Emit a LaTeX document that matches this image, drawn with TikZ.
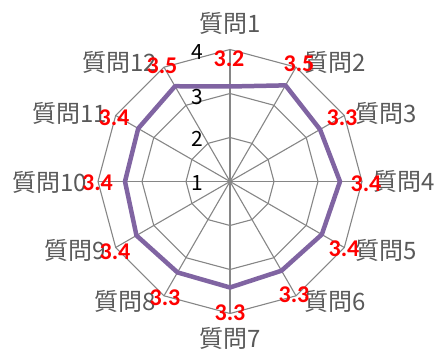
\documentclass[tikz,border=0pt]{standalone}
\usepackage{fontspec}
\newfontfamily\jpfont{Noto Sans CJK JP}
\newfontfamily\numfont{Carlito}
\definecolor{gridgray}{RGB}{134,134,134}
\definecolor{labgray}{RGB}{89,89,89}
\definecolor{serpurple}{RGB}{128,100,162}
\begin{document}
\begin{tikzpicture}[x=1pt,y=1pt,
 gridline/.style={draw=gridgray,line width=1.1pt},
 qlab/.style={inner sep=0,text=labgray,font=\jpfont\fontsize{24}{24}\selectfont},
 vlab/.style={inner sep=0,text=red,font=\numfont\bfseries\fontsize{24}{24}\selectfont},
 tlab/.style={inner sep=0,text=black,font=\jpfont\fontsize{21}{21}\selectfont},
 series/.style={draw=serpurple,line width=4.5pt,line join=round}]
\useasboundingbox (0,0) rectangle (445,352);
\coordinate (c) at (230,170.5);
% spokes
\foreach \k in {0,...,11} {\draw[gridline] (c) -- ++({90-30*\k}:132);}
% rings
\foreach \r in {44,88,132} {
  \draw[gridline,shift={(c)}] (90:\r) \foreach \k in {1,...,11} { -- ({90-30*\k}:\r)} -- cycle;
}
% series
\draw[series,shift={(c)}] (90:95) -- (60:111) -- (30:104) -- (0:110) -- (-30:106) -- (-60:103)
  -- (-90:106) -- (-120:105) -- (-150:108) -- (180:105) -- (150:106) -- (120:110) -- cycle;
% tick labels
\node[tlab] (t4) at (197,300) {4};
\node[tlab] (t3) at (197,255) {3};
\node[tlab] (t2) at (197,213) {2};
\node[tlab] (t1) at (197,169) {1};
% category labels
\node[qlab] (q1) at (230,329) {質問1};
\node[qlab] (q2) at (335,290) {質問2};
\node[qlab] (q3) at (386,239) {質問3};
\node[qlab] (q4) at (404,171) {質問4};
\node[qlab] (q5) at (386,102) {質問5};
\node[qlab] (q6) at (335,51) {質問6};
\node[qlab] (q7) at (230,14) {質問7};
\node[qlab] (q8) at (125,51) {質問8};
\node[qlab] (q9) at (75,102) {質問9};
\node[qlab] (q10) at (50,170) {質問10};
\node[qlab] (q11) at (70,239) {質問11};
\node[qlab] (q12) at (120,290) {質問12};
% value labels
\node[vlab] (v1) at (229,293) {3.2};
\node[vlab] (v2) at (299,288) {3.5};
\node[vlab] (v3) at (342,234) {3.3};
\node[vlab] (v4) at (366,168) {3.4};
\node[vlab] (v5) at (344,103) {3.4};
\node[vlab] (v6) at (294,57) {3.3};
\node[vlab] (v7) at (230,39) {3.3};
\node[vlab] (v8) at (165,54) {3.3};
\node[vlab] (v9) at (115,100) {3.4};
\node[vlab] (v10) at (97.5,169) {3.4};
\node[vlab] (v11) at (114,234) {3.4};
\node[vlab] (v12) at (162,286) {3.5};
\end{tikzpicture}
\end{document}
